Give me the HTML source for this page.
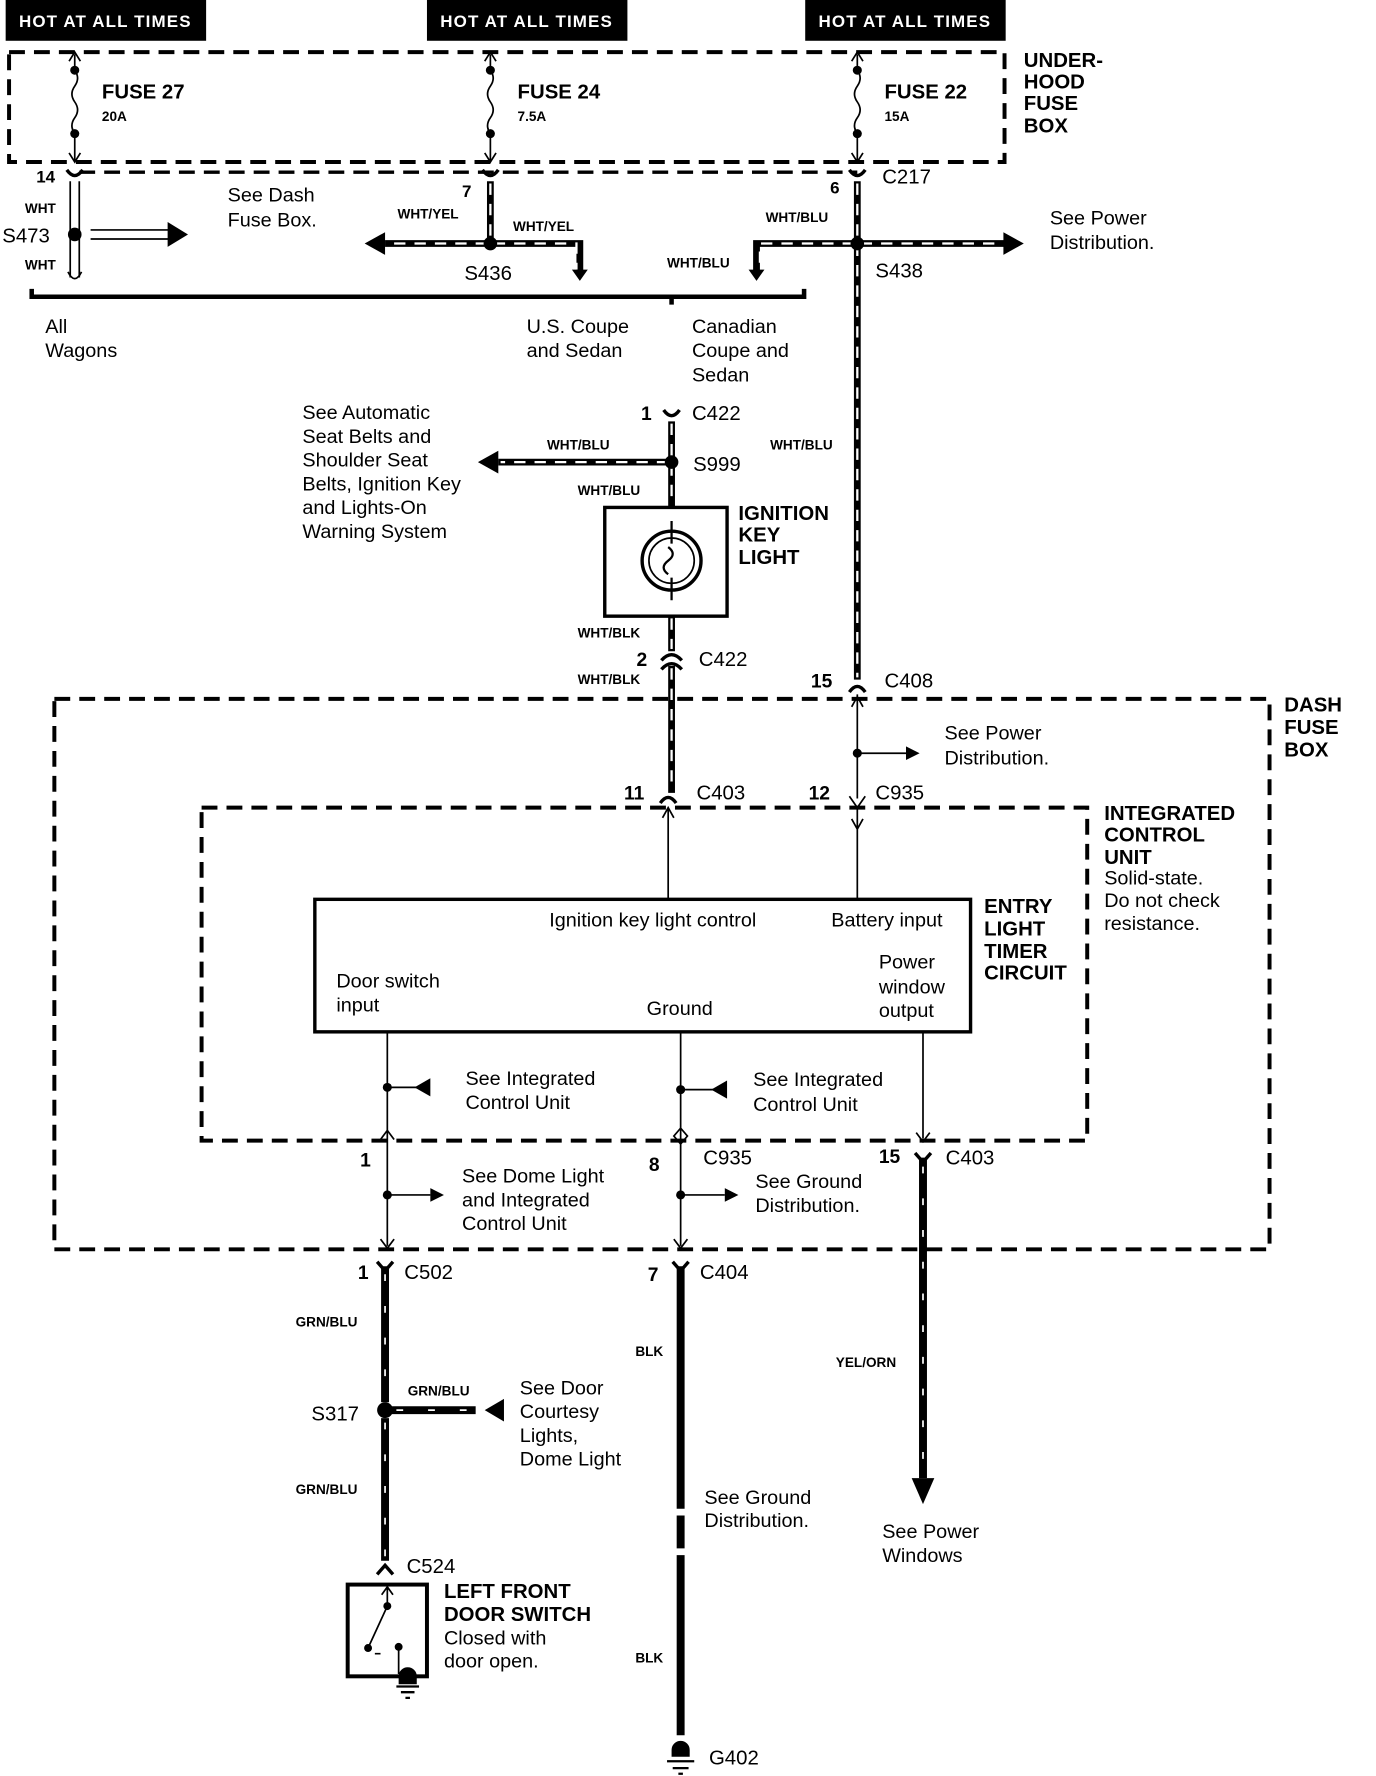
<!DOCTYPE html>
<html><head><meta charset="utf-8"><style>
html,body{margin:0;padding:0;background:#fff}
svg{display:block}
text{font-family:"Liberation Sans",sans-serif;fill:#000}
.b{font-weight:bold}
.t{font-size:17.5px}
.s{font-size:12px;font-weight:bold}
.h{font-size:18px;font-weight:bold}
</style></head><body>
<svg width="1376" height="1776" viewBox="0 0 1215 1568" preserveAspectRatio="none" xmlns="http://www.w3.org/2000/svg">
<!-- HOT AT ALL TIMES -->
<g>
<rect x="5" y="0" width="177" height="36"/><rect x="377" y="0" width="177" height="36"/><rect x="711" y="0" width="177" height="36"/>
<text x="93" y="24" text-anchor="middle" style="fill:#fff;font-size:15px;letter-spacing:1px" class="b">HOT AT ALL TIMES</text>
<text x="465" y="24" text-anchor="middle" style="fill:#fff;font-size:15px;letter-spacing:1px" class="b">HOT AT ALL TIMES</text>
<text x="799" y="24" text-anchor="middle" style="fill:#fff;font-size:15px;letter-spacing:1px" class="b">HOT AT ALL TIMES</text>
</g>
<g fill="none" stroke="#000" stroke-width="3.5" stroke-dasharray="14,8">
<path d="M8,46 H887 V143 H8 Z"/>
<path d="M70,152 H757" stroke-width="3"/>
<path d="M48,617 H1121 V1103 H48 Z"/>
<path d="M178,713 H960 V1007 H178 Z"/>
</g>
<text x="904" y="59" class="h">UNDER-</text><text x="904" y="78" class="h">HOOD</text><text x="904" y="97" class="h">FUSE</text><text x="904" y="117" class="h">BOX</text>
<g fill="none" stroke="#000" stroke-width="1.5">
<path d="M66,48 V62 M66,118 V142 M433,48 V62 M433,118 V142 M757,48 V62 M757,118 V142"/>
<path d="M66,62 q5,7 0,14 q-5,7 0,14 q5,7 0,14 q-5,7 0,14"/>
<path d="M433,62 q5,7 0,14 q-5,7 0,14 q5,7 0,14 q-5,7 0,14"/>
<path d="M757,62 q5,7 0,14 q-5,7 0,14 q5,7 0,14 q-5,7 0,14"/>
<path d="M61,54 L66,46 L71,54 M61,135 L66,143 L71,135 M428,54 L433,46 L438,54 M428,135 L433,143 L438,135 M752,54 L757,46 L762,54 M752,135 L757,143 L762,135"/>
</g>
<g><circle cx="66" cy="62" r="4"/><circle cx="66" cy="118" r="4"/><circle cx="433" cy="62" r="4"/><circle cx="433" cy="118" r="4"/><circle cx="757" cy="62" r="4"/><circle cx="757" cy="118" r="4"/></g>
<text x="90" y="87" class="h">FUSE 27</text><text x="90" y="107" class="s">20A</text>
<text x="457" y="87" class="h">FUSE 24</text><text x="457" y="107" class="s">7.5A</text>
<text x="781" y="87" class="h">FUSE 22</text><text x="781" y="107" class="s">15A</text>
<g fill="none" stroke="#000" stroke-width="3">
<path d="M59,150 q7,10 14,0 M426,150 q7,10 14,0 M750,150 q7,10 14,0"/>
</g>
<g fill="none" stroke="#000" stroke-width="1.5">
<path d="M62,160 V245 M70,160 V245"/>
<path d="M80,203 H150 M80,211 H150"/>
<path d="M60,240 Q66,252 72,240"/>
</g>
<path d="M148,196 L166,207 L148,218 Z"/>
<circle cx="66" cy="207" r="6"/>
<text x="32" y="161" class="b" style="font-size:15px">14</text>
<text x="22" y="188" class="s">WHT</text><text x="22" y="238" class="s">WHT</text>
<text x="2" y="214" class="h" style="font-weight:normal">S473</text>
<text x="201" y="178" class="t">See Dash</text><text x="201" y="200" class="t">Fuse Box.</text>
<g fill="none" stroke="#000" stroke-width="6"><path d="M433,160 V215 M433,215 H340 M433,215 H512 V240 M757,160 V600 M757,215 H890 M757,215 H668 V240"/></g>
<g fill="none" stroke="#fff" stroke-width="2" stroke-dasharray="10,8"><path d="M433,162 V212 M430,215 H345 M436,215 H509 V238 M757,162 V598 M760,215 H885 M754,215 H671 V238"/></g>
<path d="M340,205 L322,215 L340,225 Z"/><path d="M886,205 L904,215 L886,225 Z"/>
<path d="M505,238 L512,248 L519,238 Z"/><path d="M661,238 L668,248 L675,238 Z"/>
<circle cx="433" cy="215" r="6"/><circle cx="757" cy="215" r="6"/>
<text x="408" y="174" class="b" style="font-size:15px">7</text>
<text x="351" y="193" class="s">WHT/YEL</text><text x="453" y="204" class="s">WHT/YEL</text>
<text x="410" y="247" class="h" style="font-weight:normal">S436</text>
<text x="733" y="171" class="b" style="font-size:15px">6</text>
<text x="779" y="162" class="h" style="font-weight:normal">C217</text>
<text x="676" y="196" class="s">WHT/BLU</text><text x="589" y="236" class="s">WHT/BLU</text>
<text x="773" y="245" class="h" style="font-weight:normal">S438</text>
<text x="927" y="198" class="t">See Power</text><text x="927" y="220" class="t">Distribution.</text>
<path d="M28,255 V262 H710 V255 M593,262 V269" fill="none" stroke="#000" stroke-width="4"/>
<text x="40" y="294" class="t">All</text><text x="40" y="315" class="t">Wagons</text>
<text x="465" y="294" class="t">U.S. Coupe</text><text x="465" y="315" class="t">and Sedan</text>
<text x="611" y="294" class="t">Canadian</text><text x="611" y="315" class="t">Coupe and</text><text x="611" y="337" class="t">Sedan</text>
<path d="M586,362 q7,10 14,0" fill="none" stroke="#000" stroke-width="3"/>
<g fill="none" stroke="#000" stroke-width="6"><path d="M593,372 V447 M593,408 H440 M593,544 V575 M593,588 V700"/></g>
<g fill="none" stroke="#fff" stroke-width="2" stroke-dasharray="10,8"><path d="M593,374 V445 M590,408 H442 M593,546 V573 M593,590 V698"/></g>
<path d="M440,398 L422,408 L440,418 Z"/>
<circle cx="593" cy="408" r="6"/>
<text x="566" y="371" class="b" style="font-size:17px">1</text><text x="611" y="371" class="h" style="font-weight:normal">C422</text>
<text x="483" y="397" class="s">WHT/BLU</text><text x="612" y="416" class="h" style="font-weight:normal">S999</text>
<text x="510" y="437" class="s">WHT/BLU</text>
<text x="680" y="397" class="s">WHT/BLU</text>
<text x="267" y="370" class="t">See Automatic</text><text x="267" y="391" class="t">Seat Belts and</text><text x="267" y="412" class="t">Shoulder Seat</text><text x="267" y="433" class="t">Belts, Ignition Key</text><text x="267" y="454" class="t">and Lights-On</text><text x="267" y="475" class="t">Warning System</text>
<rect x="534" y="448" width="108" height="96" fill="#fff" stroke="#000" stroke-width="3"/>
<circle cx="593" cy="495" r="26" fill="none" stroke="#000" stroke-width="3"/>
<circle cx="593" cy="495" r="20" fill="none" stroke="#000" stroke-width="1.5"/>
<path d="M593,460 V480 M593,510 V530 M590,483 q8,6 0,12 q-8,6 0,12" fill="none" stroke="#000" stroke-width="2"/>
<text x="652" y="459" class="h">IGNITION</text><text x="652" y="478" class="h">KEY</text><text x="652" y="498" class="h">LIGHT</text>
<text x="510" y="563" class="s">WHT/BLK</text>
<path d="M584,583 q9,-10 18,0 M584,591 q9,-10 18,0" fill="none" stroke="#000" stroke-width="3"/>
<text x="562" y="588" class="b" style="font-size:17px">2</text><text x="617" y="588" class="h" style="font-weight:normal">C422</text>
<text x="510" y="604" class="s">WHT/BLK</text>
<path d="M750,611 q7,-10 14,0" fill="none" stroke="#000" stroke-width="3"/>
<text x="716" y="607" class="b" style="font-size:17px">15</text><text x="781" y="607" class="h" style="font-weight:normal">C408</text>
<text x="1134" y="628" class="h">DASH</text><text x="1134" y="648" class="h">FUSE</text><text x="1134" y="668" class="h">BOX</text>
<g fill="none" stroke="#000" stroke-width="1.5">
<path d="M757,613 V705 M752,624 L757,615 L762,624 M757,665 H800"/>
<path d="M590,713 V793 M585,722 L590,713 L595,722 M757,713 V793 M752,723 L757,732 L762,723"/>
<path d="M342,911 V1100 M601,911 V1100 M815,911 V1005"/>
</g>
<path d="M800,659 L812,665 L800,671 Z"/>
<circle cx="757" cy="665" r="4"/>
<text x="834" y="653" class="t">See Power</text><text x="834" y="675" class="t">Distribution.</text>
<path d="M583,709 q7,-10 14,0" fill="none" stroke="#000" stroke-width="3"/>
<path d="M750,703 L757,713 L764,703" fill="none" stroke="#000" stroke-width="1.5"/>
<text x="551" y="706" class="b" style="font-size:17px">11</text><text x="615" y="706" class="h" style="font-weight:normal">C403</text>
<text x="714" y="706" class="b" style="font-size:17px">12</text><text x="773" y="706" class="h" style="font-weight:normal">C935</text>
<text x="975" y="724" class="h">INTEGRATED</text><text x="975" y="743" class="h">CONTROL</text><text x="975" y="763" class="h">UNIT</text>
<text x="975" y="781" class="t">Solid-state.</text><text x="975" y="801" class="t">Do not check</text><text x="975" y="821" class="t">resistance.</text>
<rect x="278" y="794" width="579" height="117" fill="#fff" stroke="#000" stroke-width="3"/>
<text x="485" y="818" class="t">Ignition key light control</text><text x="734" y="818" class="t">Battery input</text>
<text x="776" y="855" class="t">Power</text><text x="776" y="877" class="t">window</text><text x="776" y="898" class="t">output</text>
<text x="297" y="872" class="t">Door switch</text><text x="297" y="893" class="t">input</text>
<text x="571" y="896" class="t">Ground</text>
<text x="869" y="806" class="h">ENTRY</text><text x="869" y="826" class="h">LIGHT</text><text x="869" y="846" class="h">TIMER</text><text x="869" y="865" class="h">CIRCUIT</text>
<g fill="none" stroke="#000" stroke-width="1.5"><path d="M342,960 H370 M601,962 H632 M342,1055 H380 M601,1055 H640"/></g>
<path d="M380,952 L366,960 L380,968 Z"/><path d="M642,954 L628,962 L642,970 Z"/>
<path d="M380,1049 L392,1055 L380,1061 Z"/><path d="M640,1049 L652,1055 L640,1061 Z"/>
<circle cx="342" cy="960" r="4"/><circle cx="601" cy="962" r="4"/><circle cx="342" cy="1055" r="4"/><circle cx="601" cy="1055" r="4"/>
<text x="411" y="958" class="t">See  Integrated</text><text x="411" y="979" class="t">Control Unit</text>
<text x="665" y="959" class="t">See  Integrated</text><text x="665" y="981" class="t">Control Unit</text>
<g fill="none" stroke="#000" stroke-width="1.5">
<path d="M336,1006 L342,998 L348,1006 M595,1003 L601,996 L607,1003 L601,1010 Z M809,1000 L815,1008 L821,1000 M336,1094 L342,1102 L348,1094 M595,1094 L601,1102 L607,1094"/>
</g>
<path d="M808,1018 L815,1026 L822,1018" fill="none" stroke="#000" stroke-width="3"/>
<text x="318" y="1030" class="b" style="font-size:17px">1</text>
<text x="573" y="1034" class="b" style="font-size:17px">8</text>
<text x="621" y="1028" class="h" style="font-weight:normal">C935</text>
<text x="776" y="1027" class="b" style="font-size:17px">15</text><text x="835" y="1028" class="h" style="font-weight:normal">C403</text>
<text x="408" y="1044" class="t">See Dome Light</text><text x="408" y="1065" class="t">and Integrated</text><text x="408" y="1086" class="t">Control Unit</text>
<text x="667" y="1049" class="t">See Ground</text><text x="667" y="1070" class="t">Distribution.</text>
<g fill="none" stroke="#000" stroke-width="7"><path d="M815,1022 V1305 M340,1118 V1238 M340,1252 V1378 M340,1245 H420 M601,1118 V1332 M601,1338 V1367 M601,1373 V1532"/></g>
<g fill="none" stroke="#fff" stroke-width="1.5" stroke-dasharray="6,22"><path d="M815,1030 V1300 M340,1125 V1235 M340,1256 V1375 M350,1245 H415"/></g>
<path d="M805,1305 L815,1328 L825,1305 Z"/>
<path d="M445,1235 L428,1245 L445,1255 Z"/>
<circle cx="340" cy="1245" r="7"/>
<path d="M333,1114 L340,1122 L347,1114 M594,1114 L601,1122 L608,1114" fill="none" stroke="#000" stroke-width="3"/>
<text x="316" y="1129" class="b" style="font-size:17px">1</text><text x="357" y="1129" class="h" style="font-weight:normal">C502</text>
<text x="572" y="1131" class="b" style="font-size:17px">7</text><text x="618" y="1129" class="h" style="font-weight:normal">C404</text>
<text x="261" y="1171" class="s">GRN/BLU</text><text x="360" y="1232" class="s">GRN/BLU</text><text x="261" y="1319" class="s">GRN/BLU</text>
<text x="275" y="1254" class="h" style="font-weight:normal">S317</text>
<text x="561" y="1197" class="s">BLK</text><text x="561" y="1468" class="s">BLK</text>
<text x="738" y="1207" class="s">YEL/ORN</text>
<text x="459" y="1231" class="t">See Door</text><text x="459" y="1252" class="t">Courtesy</text><text x="459" y="1273" class="t">Lights,</text><text x="459" y="1294" class="t">Dome Light</text>
<text x="622" y="1328" class="t">See Ground</text><text x="622" y="1348" class="t">Distribution.</text>
<text x="779" y="1358" class="t">See Power</text><text x="779" y="1379" class="t">Windows</text>
<path d="M333,1390 L340,1382 L347,1390" fill="none" stroke="#000" stroke-width="3"/>
<text x="359" y="1389" class="h" style="font-weight:normal">C524</text>
<rect x="307" y="1399" width="70" height="81" fill="#fff" stroke="#000" stroke-width="3.5"/>
<g fill="none" stroke="#000" stroke-width="1.5"><path d="M342,1400 V1418 M337,1408 L342,1401 L347,1408 M342,1418 L325,1455 M331,1460 H336 M352,1454 V1478"/></g>
<circle cx="342" cy="1418" r="3.5"/><circle cx="325" cy="1455" r="3.5"/><circle cx="352" cy="1454" r="3.5"/>
<path d="M353,1480 a7,7 0 0 1 14,0 v6 h-14 z M350,1489 H370 M354,1494 H366 M358,1499 H362" fill="#000" stroke="#000" stroke-width="2"/>
<text x="392" y="1411" class="h">LEFT FRONT</text><text x="392" y="1431" class="h">DOOR SWITCH</text>
<text x="392" y="1452" class="t">Closed with</text><text x="392" y="1472" class="t">door open.</text>
<path d="M594,1545 a7,7 0 0 1 14,0 v5 h-14 z M589,1555 H613 M594,1561 H608 M599,1566 H603" fill="#000" stroke="#000" stroke-width="2"/>
<text x="626" y="1558" class="h" style="font-weight:normal">G402</text>
</svg>
</body></html>
